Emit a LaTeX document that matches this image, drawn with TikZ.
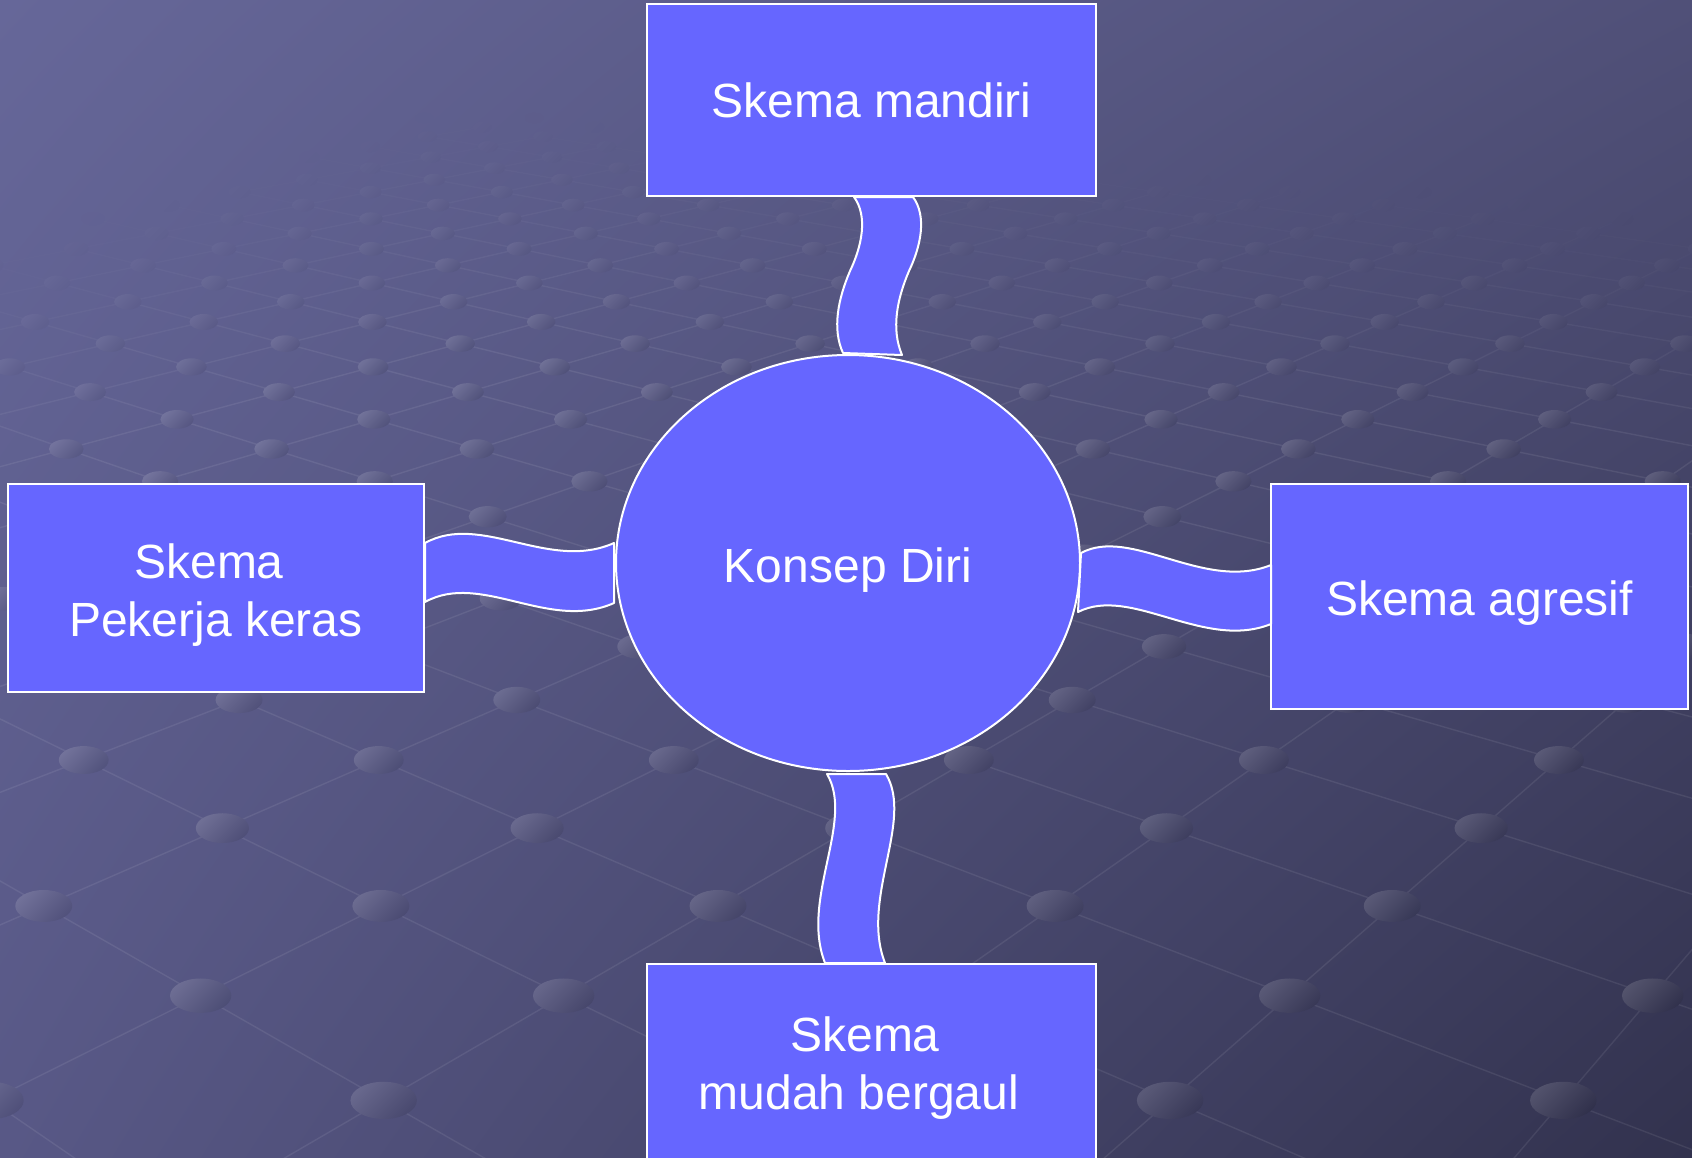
\documentclass[tikz,border=0pt]{standalone}
\usepackage{fontspec}
\setmainfont{Liberation Sans}
\usetikzlibrary{shapes.geometric,calc,shadings}
\definecolor{boxfill}{RGB}{102,102,255}
\definecolor{bgUL}{RGB}{102,103,153}
\definecolor{bgUR}{RGB}{80,80,120}
\definecolor{bgLL}{RGB}{88,88,134}
\definecolor{bgLR}{RGB}{50,50,78}
% perspective grid point (i,j): horizon at y=-263
\newcommand\gpt[2]{%
  \pgfmathsetmacro\gh{1000/(0.9775-0.061*((#1)+(#2)))}%
  \pgfmathsetmacro\gy{\gh-263}%
  \pgfmathsetmacro\gx{364+\gh*0.2884*(4.05-((#2)-(#1))/2)}}
\newcommand\gfade[2]{%
  \pgfmathsetmacro\gop{max(0,min(1,((#2)-110-0.3*max(0,450-(#1))-0.08*max(0,(#1)-450))/250))}}
\begin{document}
\begin{tikzpicture}[x=0.5pt,y=-0.5pt,
  schema/.style={draw=white, line width=1pt, fill=boxfill, text=white,
    align=center, font=\fontsize{24}{29}\selectfont, inner sep=0pt},
  band/.style={draw=white, line width=1pt, fill=boxfill, line join=round}]
\useasboundingbox (0,0) rectangle (1692,1157);
\shade[upper left=bgUL, upper right=bgUR, lower left=bgLL, lower right=bgLR]
  (0,0) rectangle (1692,1157);
% perspective grid (background texture)
\begin{scope}
\clip (0,0) rectangle (1692,1157);
\foreach \i in {-21,...,11}{\foreach \j in {-21,...,11}{%
  \pgfmathtruncatemacro\gss{\i+\j}%
  \ifnum\gss<-27 \else\ifnum\gss>6 \else
  \gpt{\i}{\j}\let\ax\gx\let\ay\gy
  \gpt{\i+1}{\j}\let\bx\gx\let\by\gy
  \gpt{\i}{\j+1}\let\qx\gx\let\qy\gy
  \gfade{(\ax+\bx)/2}{(\ay+\by)/2}\pgfmathsetmacro\lo{0.08*\gop}
  \ifdim\gop pt>0pt \draw[white, line width=0.7pt, draw opacity=\lo] (\ax,\ay) -- (\bx,\by);\fi
  \gfade{(\ax+\qx)/2}{(\ay+\qy)/2}\pgfmathsetmacro\lo{0.08*\gop}
  \ifdim\gop pt>0pt \draw[white, line width=0.7pt, draw opacity=\lo] (\ax,\ay) -- (\qx,\qy);\fi
  \fi\fi
}}
\foreach \i in {-21,...,11}{\foreach \j in {-21,...,11}{%
  \pgfmathtruncatemacro\gss{\i+\j}%
  \ifnum\gss<-27 \else\ifnum\gss>6 \else
  \gpt{\i}{\j}\gfade{\gx}{\gy}%
  \ifdim\gop pt>0pt
    \pgfmathsetmacro\grx{0.01217*\gh}\pgfmathsetmacro\gry{0.00682*\gh}%
    \pgfmathsetmacro\gu{max(0,min(1,\gx/1692))}%
    \pgfmathsetmacro\gv{max(0,min(1,\gy/1157))}%
    \pgfmathsetmacro\gR{102*(1-\gu)*(1-\gv)+80*\gu*(1-\gv)+88*(1-\gu)*\gv+50*\gu*\gv}%
    \pgfmathsetmacro\gG{103*(1-\gu)*(1-\gv)+80*\gu*(1-\gv)+88*(1-\gu)*\gv+50*\gu*\gv}%
    \pgfmathsetmacro\gB{153*(1-\gu)*(1-\gv)+120*\gu*(1-\gv)+134*(1-\gu)*\gv+78*\gu*\gv}%
    \pgfmathsetmacro\gk{0.14*\gop}\pgfmathsetmacro\gm{1-0.09*\gop}%
    \pgfmathtruncatemacro\lR{\gR*(1-\gk)+255*\gk}%
    \pgfmathtruncatemacro\lG{\gG*(1-\gk)+255*\gk}%
    \pgfmathtruncatemacro\lB{\gB*(1-\gk)+255*\gk}%
    \pgfmathtruncatemacro\dR{\gR*\gm}%
    \pgfmathtruncatemacro\dG{\gG*\gm}%
    \pgfmathtruncatemacro\dB{\gB*\gm}%
    \definecolor{dotl}{RGB}{\lR,\lG,\lB}%
    \definecolor{dotd}{RGB}{\dR,\dG,\dB}%
    \shade[top color=dotl, bottom color=dotd, shading angle=45]
      (\gx,\gy) ellipse [x radius=\grx pt, y radius=\gry pt];
  \fi
  \fi\fi
}}
\end{scope}
% nodes
\node[schema, minimum width=224.5pt, minimum height=96pt] (mandiri) at (871.5,100)
  {Skema mandiri};
\node[schema, minimum width=208pt, minimum height=104pt] (pekerja) at (216,588)
  {\rule{0pt}{24pt}Skema\hspace*{7pt}\\Pekerja keras};
\node[schema, minimum width=208.5pt, minimum height=112.5pt] (agresif) at (1479.5,596.5)
  {\rule{0pt}{24pt}Skema agresif};
\node[schema, minimum width=224.5pt, minimum height=99pt] (bergaul) at (871.5,1063)
  {\rule{0pt}{22pt}Skema\hspace*{6.5pt}\\mudah bergaul\hspace*{12.5pt}};
\node[schema, ellipse, minimum width=232pt, minimum height=208pt] (konsep) at (848,563)
  {\rule{0pt}{24pt}Konsep Diri};
% wavy connectors
\draw[band] ($(mandiri.south)+(-17.5,0)$) .. controls +(14,19) and +(12,-25) .. ($(mandiri.south)+(-21.5,74)$)
  .. controls +(-12,28) and +(-11,-24) .. ($(konsep.north)+(-5,-1)$)
  -- ($(konsep.north)+(54,1)$) .. controls +(-11,-26) and +(-12,28) .. ($(mandiri.south)+(37.5,74)$)
  .. controls +(12,-25) and +(14,19) .. ($(mandiri.south)+(41.5,0)$) -- cycle;
\draw[band] ($(pekerja.east)+(0,-45)$) .. controls +(56,-31) and +(-65,29) .. ($(konsep.west)+(-1,-20)$)
  -- ($(konsep.west)+(-1,40)$) .. controls +(-65,29) and +(56,-31) .. ($(pekerja.east)+(0,14)$) -- cycle;
\draw[band] ($(konsep.east)+(0,-10)$) .. controls +(50,-27) and +(-67,27) .. ($(agresif.west)+(1,-31.5)$)
  -- ($(agresif.west)+(1,27.5)$) .. controls +(-67,27) and +(53,-27) .. ($(konsep.east)+(-3,49)$) -- cycle;
\draw[band] ($(konsep.south)+(-21,2)$) .. controls +(28,47) and +(-25,-64) .. ($(bergaul.north)+(-46.5,0)$)
  -- ($(bergaul.north)+(13.5,0)$) .. controls +(-25,-64) and +(28,47) .. ($(konsep.south)+(38,2)$) -- cycle;
\end{tikzpicture}
\end{document}
